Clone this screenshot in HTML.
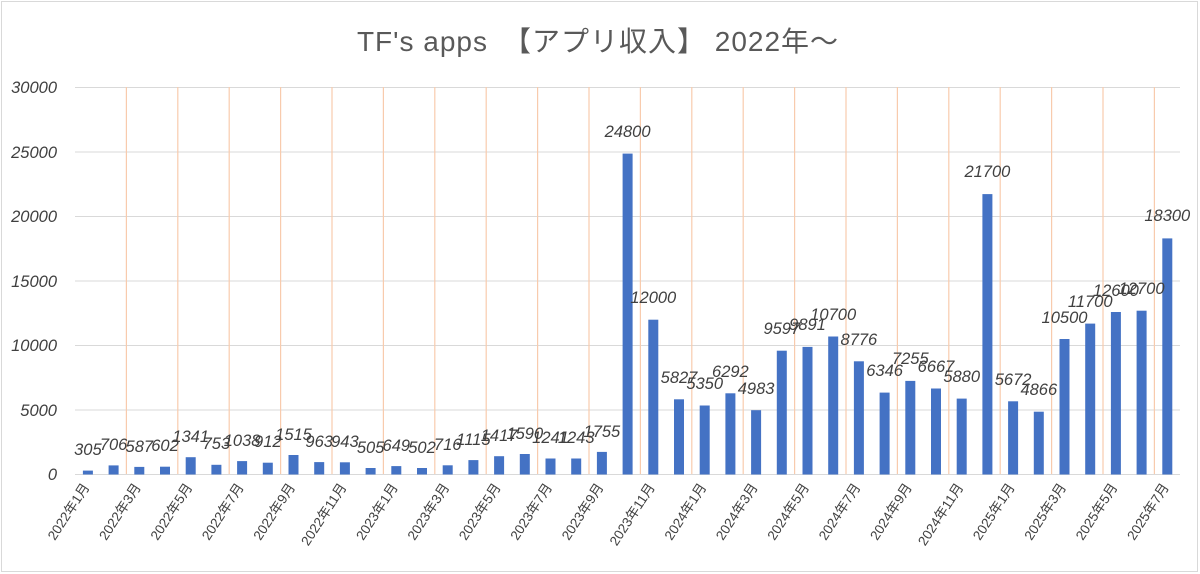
<!DOCTYPE html>
<html><head><meta charset="utf-8"><style>
html,body{margin:0;padding:0;background:#fff;}
svg{display:block;font-family:"Liberation Sans","Noto Sans CJK JP",sans-serif;}
.v{font-size:16.5px;font-style:italic;fill:#404040;text-anchor:middle;}
.y{font-size:16.5px;font-style:italic;fill:#404040;text-anchor:end;}
.x{font-size:13.5px;fill:#404040;text-anchor:end;}
</style></head><body>
<svg width="1200" height="574" viewBox="0 0 1200 574">
<rect x="1.5" y="1.5" width="1196" height="570" fill="#fff" stroke="#d9d9d9"/>
<text x="598" y="51" text-anchor="middle" font-size="28" letter-spacing="1" fill="#595959">TF's apps　【アプリ収入】 2022年〜</text>
<g stroke="#d9d9d9" stroke-width="1">
<line x1="75" x2="1180" y1="87.5" y2="87.5"/><line x1="75" x2="1180" y1="152" y2="152"/>
<line x1="75" x2="1180" y1="216.5" y2="216.5"/><line x1="75" x2="1180" y1="281" y2="281"/>
<line x1="75" x2="1180" y1="345.5" y2="345.5"/><line x1="75" x2="1180" y1="410" y2="410"/>
<line x1="75" x2="1180" y1="474.5" y2="474.5"/>
</g>
<g stroke="#f8cbad" stroke-width="1.2">
<line x1="126.4" x2="126.4" y1="87" y2="474"/><line x1="177.8" x2="177.8" y1="87" y2="474"/>
<line x1="229.2" x2="229.2" y1="87" y2="474"/><line x1="280.6" x2="280.6" y1="87" y2="474"/>
<line x1="332" x2="332" y1="87" y2="474"/><line x1="383.4" x2="383.4" y1="87" y2="474"/>
<line x1="434.8" x2="434.8" y1="87" y2="474"/><line x1="486.2" x2="486.2" y1="87" y2="474"/>
<line x1="537.6" x2="537.6" y1="87" y2="474"/><line x1="589" x2="589" y1="87" y2="474"/>
<line x1="640.4" x2="640.4" y1="87" y2="474"/><line x1="691.8" x2="691.8" y1="87" y2="474"/>
<line x1="743.2" x2="743.2" y1="87" y2="474"/><line x1="794.6" x2="794.6" y1="87" y2="474"/>
<line x1="846" x2="846" y1="87" y2="474"/><line x1="897.4" x2="897.4" y1="87" y2="474"/>
<line x1="948.8" x2="948.8" y1="87" y2="474"/><line x1="1000.2" x2="1000.2" y1="87" y2="474"/>
<line x1="1051.6" x2="1051.6" y1="87" y2="474"/><line x1="1103" x2="1103" y1="87" y2="474"/>
<line x1="1154.4" x2="1154.4" y1="87" y2="474"/>
</g>
<g>
<text class="y" x="57" y="93">30000</text><text class="y" x="57" y="158">25000</text>
<text class="y" x="57" y="222">20000</text><text class="y" x="57" y="287">15000</text>
<text class="y" x="57" y="351">10000</text><text class="y" x="57" y="416">5000</text>
<text class="y" x="57" y="480">0</text>
</g>
<g fill="#4472c4">
<rect x="82.9" y="470.6" width="10" height="3.9"/>
<rect x="108.6" y="465.4" width="10" height="9.1"/>
<rect x="134.3" y="466.9" width="10" height="7.6"/>
<rect x="160" y="466.7" width="10" height="7.8"/>
<rect x="185.7" y="457.2" width="10" height="17.3"/>
<rect x="211.4" y="464.8" width="10" height="9.7"/>
<rect x="237.1" y="461.1" width="10" height="13.4"/>
<rect x="262.8" y="462.7" width="10" height="11.8"/>
<rect x="288.5" y="455" width="10" height="19.5"/>
<rect x="314.2" y="462.1" width="10" height="12.4"/>
<rect x="339.9" y="462.3" width="10" height="12.2"/>
<rect x="365.6" y="468" width="10" height="6.5"/>
<rect x="391.3" y="466.1" width="10" height="8.4"/>
<rect x="417" y="468" width="10" height="6.5"/>
<rect x="442.7" y="465.3" width="10" height="9.2"/>
<rect x="468.4" y="460.1" width="10" height="14.4"/>
<rect x="494.1" y="456.2" width="10" height="18.3"/>
<rect x="519.8" y="454" width="10" height="20.5"/>
<rect x="545.5" y="458.5" width="10" height="16"/>
<rect x="571.2" y="458.5" width="10" height="16"/>
<rect x="596.9" y="451.9" width="10" height="22.6"/>
<rect x="622.6" y="153.6" width="10" height="320.9"/>
<rect x="648.3" y="319.7" width="10" height="154.8"/>
<rect x="674" y="399.3" width="10" height="75.2"/>
<rect x="699.7" y="405.5" width="10" height="69"/>
<rect x="725.4" y="393.3" width="10" height="81.2"/>
<rect x="751.1" y="410.2" width="10" height="64.3"/>
<rect x="776.8" y="350.7" width="10" height="123.8"/>
<rect x="802.5" y="346.9" width="10" height="127.6"/>
<rect x="828.2" y="336.5" width="10" height="138"/>
<rect x="853.9" y="361.3" width="10" height="113.2"/>
<rect x="879.6" y="392.6" width="10" height="81.9"/>
<rect x="905.3" y="380.9" width="10" height="93.6"/>
<rect x="931" y="388.5" width="10" height="86"/>
<rect x="956.7" y="398.6" width="10" height="75.9"/>
<rect x="982.4" y="194.1" width="10" height="280.4"/>
<rect x="1008.1" y="401.3" width="10" height="73.2"/>
<rect x="1033.8" y="411.7" width="10" height="62.8"/>
<rect x="1059.5" y="339" width="10" height="135.5"/>
<rect x="1085.2" y="323.6" width="10" height="150.9"/>
<rect x="1110.9" y="312" width="10" height="162.5"/>
<rect x="1136.6" y="310.7" width="10" height="163.8"/>
<rect x="1162.3" y="238.4" width="10" height="236.1"/>
</g>
<g>
<text class="v" x="87.9" y="455">305</text>
<text class="v" x="113.6" y="450">706</text>
<text class="v" x="139.3" y="452">587</text>
<text class="v" x="165" y="451">602</text>
<text class="v" x="190.7" y="442">1341</text>
<text class="v" x="216.4" y="449">753</text>
<text class="v" x="242.1" y="446">1038</text>
<text class="v" x="267.8" y="447">912</text>
<text class="v" x="293.5" y="440">1515</text>
<text class="v" x="319.2" y="447">963</text>
<text class="v" x="344.9" y="447">943</text>
<text class="v" x="370.6" y="453">505</text>
<text class="v" x="396.3" y="451">649</text>
<text class="v" x="422" y="453">502</text>
<text class="v" x="447.7" y="450">716</text>
<text class="v" x="473.4" y="445">1115</text>
<text class="v" x="499.1" y="441">1417</text>
<text class="v" x="524.8" y="439">1590</text>
<text class="v" x="550.5" y="443">1241</text>
<text class="v" x="576.2" y="443">1243</text>
<text class="v" x="601.9" y="437">1755</text>
<text class="v" x="627.6" y="137">24800</text>
<text class="v" x="653.3" y="303">12000</text>
<text class="v" x="679" y="383">5827</text>
<text class="v" x="704.7" y="389">5350</text>
<text class="v" x="730.4" y="377">6292</text>
<text class="v" x="756.1" y="394">4983</text>
<text class="v" x="781.8" y="334">9597</text>
<text class="v" x="807.5" y="330">9891</text>
<text class="v" x="833.2" y="320">10700</text>
<text class="v" x="858.9" y="345">8776</text>
<text class="v" x="884.6" y="376">6346</text>
<text class="v" x="910.3" y="364">7255</text>
<text class="v" x="936" y="372">6667</text>
<text class="v" x="961.7" y="382">5880</text>
<text class="v" x="987.4" y="177">21700</text>
<text class="v" x="1013.1" y="385">5672</text>
<text class="v" x="1038.8" y="395">4866</text>
<text class="v" x="1064.5" y="323">10500</text>
<text class="v" x="1090.2" y="307">11700</text>
<text class="v" x="1115.9" y="296">12600</text>
<text class="v" x="1141.6" y="294">12700</text>
<text class="v" x="1167.3" y="221">18300</text>
</g>
<g>
<text class="x" transform="translate(90,487) rotate(-57)">2022年1月</text>
<text class="x" transform="translate(141.4,487) rotate(-57)">2022年3月</text>
<text class="x" transform="translate(192.8,487) rotate(-57)">2022年5月</text>
<text class="x" transform="translate(244.2,487) rotate(-57)">2022年7月</text>
<text class="x" transform="translate(295.6,487) rotate(-57)">2022年9月</text>
<text class="x" transform="translate(347,487) rotate(-57)">2022年11月</text>
<text class="x" transform="translate(398.4,487) rotate(-57)">2023年1月</text>
<text class="x" transform="translate(449.8,487) rotate(-57)">2023年3月</text>
<text class="x" transform="translate(501.2,487) rotate(-57)">2023年5月</text>
<text class="x" transform="translate(552.6,487) rotate(-57)">2023年7月</text>
<text class="x" transform="translate(604,487) rotate(-57)">2023年9月</text>
<text class="x" transform="translate(655.4,487) rotate(-57)">2023年11月</text>
<text class="x" transform="translate(706.8,487) rotate(-57)">2024年1月</text>
<text class="x" transform="translate(758.2,487) rotate(-57)">2024年3月</text>
<text class="x" transform="translate(809.6,487) rotate(-57)">2024年5月</text>
<text class="x" transform="translate(861,487) rotate(-57)">2024年7月</text>
<text class="x" transform="translate(912.4,487) rotate(-57)">2024年9月</text>
<text class="x" transform="translate(963.8,487) rotate(-57)">2024年11月</text>
<text class="x" transform="translate(1015.2,487) rotate(-57)">2025年1月</text>
<text class="x" transform="translate(1066.6,487) rotate(-57)">2025年3月</text>
<text class="x" transform="translate(1118,487) rotate(-57)">2025年5月</text>
<text class="x" transform="translate(1169.4,487) rotate(-57)">2025年7月</text>
</g>
</svg>
</body></html>
